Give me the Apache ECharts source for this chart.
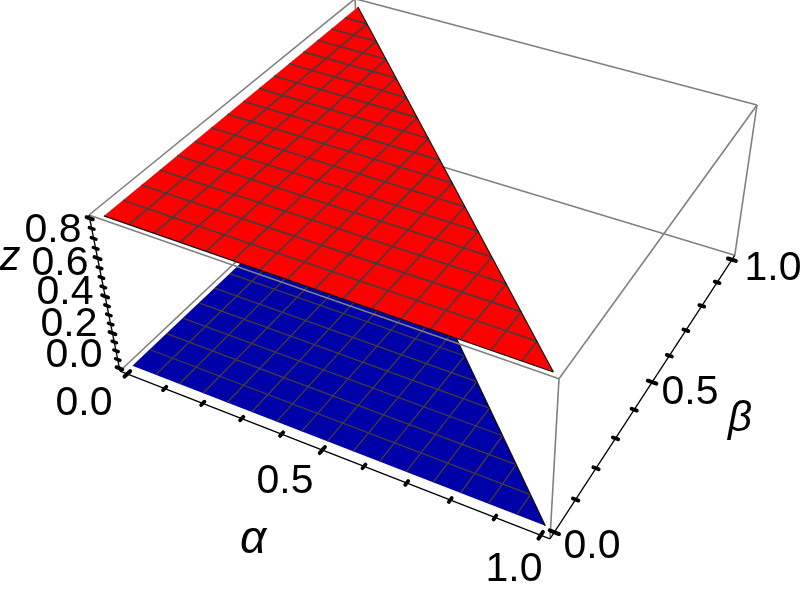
<!DOCTYPE html>
<html>
<head>
<meta charset="utf-8">
<style>
  html, body { margin: 0; padding: 0; background: #fff; }
  #main { width: 807px; height: 596px; }
</style>
<script src="https://cdn.jsdelivr.net/npm/echarts@6/dist/echarts.min.js"></script>
</head>
<body>
<div id="main"></div>
<script>
// surfaces: both are the triangle alpha + beta <= 1 at a constant z
const TRIANGLE_ALPHA = [0, 1, 0];
const TRIANGLE_BETA = [0, 0, 1];
const RED_Z = [0.8, 0.8, 0.8];
const BLUE_Z = [0, 0, 0];
const MESH_DIVISIONS = 16;

// axes
const ALPHA_RANGE = [-0.02, 1.02];
const BETA_RANGE = [-0.02, 1.02];
const Z_RANGE = [-0.016, 0.816];
const ALPHA_TICKS = [0, 0.1, 0.2, 0.3, 0.4, 0.5, 0.6, 0.7, 0.8, 0.9, 1];
const BETA_TICKS = [0, 0.1, 0.2, 0.3, 0.4, 0.5, 0.6, 0.7, 0.8, 0.9, 1];
const Z_TICKS = [0, 0.05, 0.1, 0.15, 0.2, 0.25, 0.3, 0.35, 0.4, 0.45, 0.5, 0.55, 0.6, 0.65, 0.7, 0.75, 0.8];
const ALPHA_MAJOR = [0, 0.5, 1];
const BETA_MAJOR = [0, 0.5, 1];
const Z_MAJOR = [0, 0.2, 0.4, 0.6, 0.8];
const ALPHA_LABELS = ["0.0", "0.5", "1.0"];
const BETA_LABELS = ["0.0", "0.5", "1.0"];
const Z_LABELS = ["0.0", "0.2", "0.4", "0.6", "0.8"];

// camera fitted to the box corners: box fractions (u, v, w) -> screen
const CAMERA = [
  [402.24, 347.25, -41.86, 130.86],
  [117.8, -216.5, -189.6, 404.6],
  [-0.12121, 0.22886, -0.0905, 1.0905],
];

function frac(v, range) {
  return (v - range[0]) / (range[1] - range[0]);
}

function project(a, b, z) {
  const p = [frac(a, ALPHA_RANGE), frac(b, BETA_RANGE), frac(z, Z_RANGE), 1];
  const row = (r) => r[0] * p[0] + r[1] * p[1] + r[2] * p[2] + r[3];
  const w = row(CAMERA[2]);
  return [row(CAMERA[0]) / w, row(CAMERA[1]) / w];
}

// data item is a flat list: count, then a,b,z,a,b,z,...
function renderPolygon(style) {
  return function (params, api) {
    const points = [];
    const count = api.value(0);
    for (let i = 0; i < count; i++) {
      points.push(api.coord(project(api.value(1 + i * 3), api.value(2 + i * 3), api.value(3 + i * 3))));
    }
    return { type: "polygon", shape: { points: points }, style: style, silent: true };
  };
}

function renderSegment(style) {
  return function (params, api) {
    const p1 = api.coord(project(api.value(1), api.value(2), api.value(3)));
    const p2 = api.coord(project(api.value(4), api.value(5), api.value(6)));
    return {
      type: "line",
      shape: { x1: p1[0], y1: p1[1], x2: p2[0], y2: p2[1] },
      style: style,
      silent: true,
    };
  };
}

function polygonSeries(name, corners, color) {
  const flat = [corners.length];
  corners.forEach((c) => flat.push(c[0], c[1], c[2]));
  return {
    name: name,
    type: "custom",
    coordinateSystem: "cartesian2d",
    clip: false,
    data: [flat],
    encode: { x: 1, y: 2 },
    renderItem: renderPolygon({ fill: color }),
  };
}

function segmentSeries(name, segments, stroke, width, cap) {
  return {
    name: name,
    type: "custom",
    coordinateSystem: "cartesian2d",
    clip: false,
    data: segments.map((s) => [s.length].concat(s)),
    encode: { x: 1, y: 2 },
    renderItem: renderSegment({ stroke: stroke, lineWidth: width, fill: null, lineCap: cap || "butt" }),
  };
}

function meshSegments(z) {
  const segments = [];
  for (let k = 1; k < MESH_DIVISIONS; k++) {
    const t = k / MESH_DIVISIONS;
    segments.push([t, 0, z, t, 1 - t, z]);
    segments.push([0, t, z, 1 - t, t, z]);
  }
  return segments;
}

function surfaceCorners(zs) {
  return TRIANGLE_ALPHA.map((a, i) => [a, TRIANGLE_BETA[i], zs[i]]);
}

const [a0, a1] = ALPHA_RANGE;
const [b0, b1] = BETA_RANGE;
const [z0, z1] = Z_RANGE;

// tick half lengths in data units
const alphaTicks = (major) => ALPHA_TICKS.filter((v) => ALPHA_MAJOR.includes(v) === major)
  .map((v) => { const d = major ? 0.01 : 0.006; return [v, b0 - d, z0, v, b0 + d, z0]; });
const betaTicks = (major) => BETA_TICKS.filter((v) => BETA_MAJOR.includes(v) === major)
  .map((v) => { const d = major ? 0.01 : 0.006; return [a1 - d, v, z0, a1 + d, v, z0]; });
const zTicks = (major) => Z_TICKS.filter((v) => Z_MAJOR.includes(v) === major)
  .map((v) => { const d = major ? 0.008 : 0.006; return [a0 - d, b0, v, a0 + d, b0, v]; });

const BOX_GRAY = "#808080";
const MESH_COLOR = "#443c3c";

const series = [
  // back of the box
  segmentSeries("box back", [
    [a0, b1, z0, a1, b1, z0],
    [a0, b0, z0, a0, b1, z0],
    [a0, b1, z0, a0, b1, z1],
    [a0, b0, z1, a0, b1, z1],
    [a0, b1, z1, a1, b1, z1],
    [a1, b0, z1, a1, b1, z1],
    [a1, b1, z0, a1, b1, z1],
    [a1, b0, z0, a1, b0, z1],
  ], BOX_GRAY, 1.6),
  // blue surface
  polygonSeries("blue", surfaceCorners(BLUE_Z), "#0000a8"),
  segmentSeries("blue mesh", meshSegments(BLUE_Z[0]), MESH_COLOR, 1.3),
  segmentSeries("blue edge", [[1, 0, 0, 0, 1, 0]], "#111", 1.3),
  segmentSeries("box front", [[a0, b0, z1, a1, b0, z1]], BOX_GRAY, 1.6),
  // red surface
  polygonSeries("red", surfaceCorners(RED_Z), "#ff0000"),
  segmentSeries("red mesh", meshSegments(RED_Z[0]), MESH_COLOR, 1.6),
  segmentSeries("red edge", [[1, 0, 0.8, 0, 1, 0.8], [0, 0, 0.8, 1, 0, 0.8]], "#111", 1.2),
  // axes
  segmentSeries("axes", [
    [a0, b0, z0, a1, b0, z0],
    [a1, b0, z0, a1, b1, z0],
    [a0, b0, z0, a0, b0, z1],
  ], "#000", 1.3),
  segmentSeries("alpha ticks", alphaTicks(false), "#000", 3.8, "round"),
  segmentSeries("alpha major", alphaTicks(true), "#000", 4, "round"),
  segmentSeries("beta ticks", betaTicks(false), "#000", 3.8, "round"),
  segmentSeries("beta major", betaTicks(true), "#000", 4, "round"),
  segmentSeries("z ticks", zTicks(false), "#000", 3.4, "round"),
  segmentSeries("z major", zTicks(true), "#000", 3.8, "round"),
];

// label placement, centre of each text in pixels
const LABEL_FONT = "Liberation Sans";
function label(text, x, y, size, italic) {
  return {
    type: "text",
    x: x,
    y: y,
    silent: true,
    style: {
      text: text,
      align: "center",
      verticalAlign: "middle",
      fill: "#000",
      font: (italic ? "italic " : "") + size + 'px "' + LABEL_FONT + '"',
    },
  };
}

const zLabelPos = [[74, 356], [69, 325], [65, 293], [60, 264], [53, 231]];
const alphaLabelPos = [[84, 404], [285, 482], [514, 570]];
const betaLabelPos = [[592, 547], [690, 393], [773, 269]];

const labels = [];
Z_LABELS.forEach((t, i) => labels.push(label(t, zLabelPos[i][0], zLabelPos[i][1], 41)));
ALPHA_LABELS.forEach((t, i) => labels.push(label(t, alphaLabelPos[i][0], alphaLabelPos[i][1], 41)));
BETA_LABELS.forEach((t, i) => labels.push(label(t, betaLabelPos[i][0], betaLabelPos[i][1], 41)));
labels.push(label("z", 10, 258, 42, true));
labels.push(label("\u03b1", 253, 540, 46, true));
labels.push(label("\u03b2", 740, 419, 42, true));

const chart = echarts.init(document.getElementById("main"), null, { renderer: "canvas" });
chart.setOption({
  animation: false,
  backgroundColor: "#fff",
  grid: { left: 0, right: 0, top: 0, bottom: 0 },
  xAxis: { type: "value", min: 0, max: 807, show: false },
  yAxis: { type: "value", min: 0, max: 596, inverse: true, show: false },
  series: series,
  graphic: labels,
});
</script>
</body>
</html>
